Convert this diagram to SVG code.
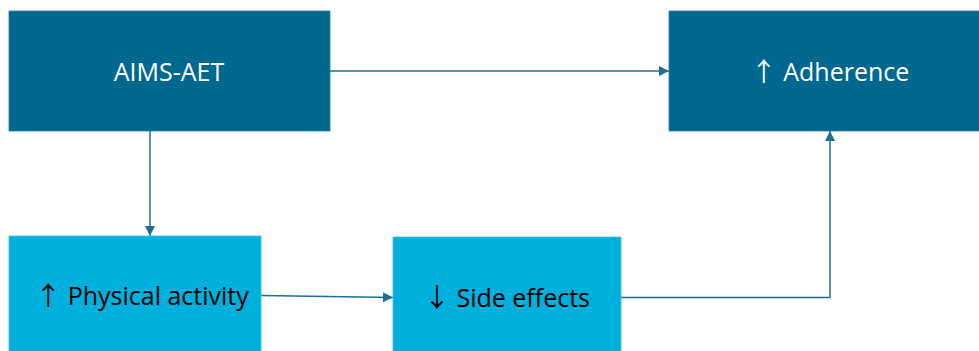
<svg xmlns="http://www.w3.org/2000/svg" width="979" height="351" viewBox="0 0 979 351">
<style>
.dark{fill:#00678F;stroke:#2C7FA6;stroke-width:0.8}
.light{fill:#00B0DC;stroke:#3FC0E4;stroke-width:0.8}
.t{font-family:"Open Sans","Liberation Sans",sans-serif;font-size:25px;text-anchor:middle}
.ar{font-family:"Noto Sans CJK JP","DejaVu Sans",sans-serif;font-weight:400;font-size:26px}
.w{fill:#FFFFFF}
.b{fill:#000000}
.c{fill:none;stroke:#1F6E96;stroke-width:1.5}
</style>
<defs>
<marker id="ah" viewBox="0 0 10 10" refX="10" refY="5" markerWidth="10" markerHeight="10" markerUnits="userSpaceOnUse" orient="auto">
<path d="M0,0 L10,5 L0,10 Z" fill="#1F6E96"/>
</marker>
</defs>
<rect width="979" height="351" fill="#FFFFFF"/>
<g id="connectors">
<line class="c" x1="330" y1="71" x2="669" y2="71" marker-end="url(#ah)"/>
<line class="c" x1="150" y1="131" x2="150" y2="236" marker-end="url(#ah)"/>
<line class="c" x1="261" y1="295.5" x2="393" y2="297.5" marker-end="url(#ah)"/>
<polyline class="c" points="621,297.5 830,297.5 830,131" marker-end="url(#ah)"/>
</g>
<g id="aims">
<rect class="dark" x="9" y="11" width="321" height="120"/>
<text class="t w" x="169" y="81">AIMS-AET</text>
</g>
<g id="adherence">
<rect class="dark" x="669" y="11" width="322" height="120"/>
<text class="t w" x="830" y="81"><tspan class="ar">↑</tspan> Adherence</text>
</g>
<g id="physical">
<rect class="light" x="9" y="236" width="252" height="120"/>
<text class="t b" x="142" y="305"><tspan class="ar">↑</tspan> Physical activity</text>
</g>
<g id="side">
<rect class="light" x="393" y="237" width="228" height="120"/>
<text class="t b" x="507" y="307"><tspan class="ar">↓</tspan> Side effects</text>
</g>
</svg>
